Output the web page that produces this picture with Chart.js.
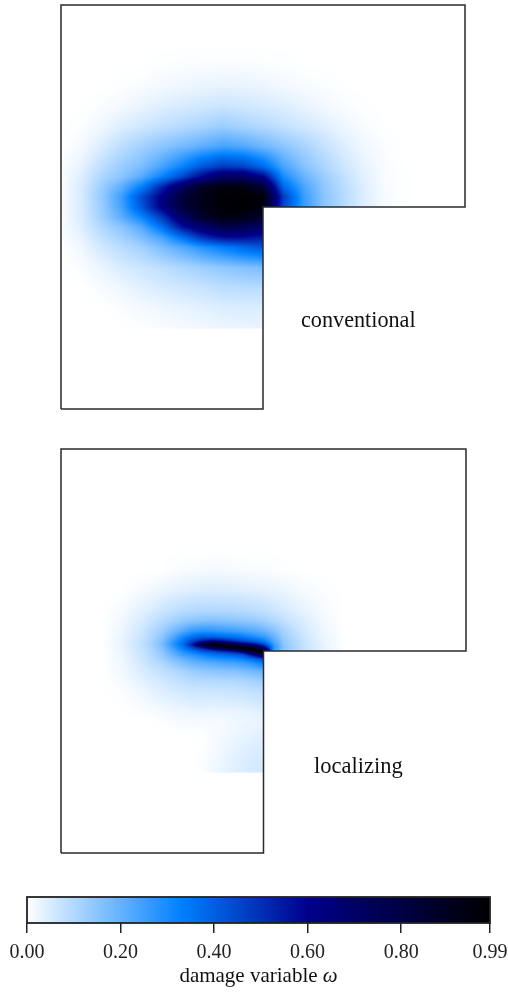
<!DOCTYPE html>
<html><head><meta charset="utf-8">
<script src="https://cdn.jsdelivr.net/npm/chart.js@4.4.1/dist/chart.umd.min.js"></script>
<style>
html,body{margin:0;padding:0;background:#fff;width:508px;height:992px;overflow:hidden;position:relative;}
canvas{position:absolute;left:0;}
.lbl{position:absolute;font-family:'Liberation Serif','Times New Roman',serif;color:#111;white-space:nowrap;line-height:1;}
</style></head><body>
<canvas id="topc" width="508" height="420" style="top:0px"></canvas>
<canvas id="botc" width="508" height="430" style="top:440px"></canvas>
<canvas id="cbc" width="508" height="102" style="top:890px"></canvas>
<div class="lbl" style="left:301px;top:308.6px;font-size:22.2px">conventional</div>
<div class="lbl" style="left:314px;top:754.6px;font-size:22.5px">localizing</div>
<div class="lbl" style="left:158.5px;width:200px;text-align:center;top:965.4px;font-size:21px">damage variable <i>ω</i></div>
<script>
// ---------- data ----------
// L-shaped domain outline (mm)
const shapeX = [0, 0, 500, 500, 250, 250, 0];
const shapeY = [0, 500, 500, 250, 250, 0, 0];

// colormap
const cmapVals = [0, 0.33, 0.6, 0.99];
const cmapColors = ['#ffffff', '#0080ff', '#00008b', '#000000'];

// colorbar ticks
const cbTicks = [0, 0.2, 0.4, 0.6, 0.8, 0.99];

// conventional model: damage field on grid nodes (x in mm, y in mm, rows top->bottom)
const topX = [0,25,50,75,100,125,150,175,200,225,250,275,300,325,350,375,400,425,450];
const topY = [450,425,400,375,350,325,300,287.5,275,262.5,250,237.5,225,212.5,200,175,150,125,100,99];
const topOmega = [
[0,0,0,0,0,0,0,0,0,0,0,0,0,0,0,0,0,0,0],
[0,0,0,0,0,0.004,0.006,0.007,0.008,0.008,0.006,0.004,0.001,0,0,0,0,0,0],
[0,0,0,0.003,0.008,0.015,0.021,0.027,0.03,0.029,0.024,0.017,0.01,0.005,0.001,0,0,0,0],
[0,0,0.005,0.015,0.028,0.041,0.052,0.06,0.068,0.061,0.053,0.043,0.03,0.017,0.007,0.002,0,0,0],
[0,0.004,0.018,0.043,0.061,0.078,0.094,0.11,0.128,0.113,0.096,0.078,0.06,0.041,0.022,0.007,0.001,0,0],
[0,0.013,0.047,0.087,0.12,0.15,0.18,0.21,0.24,0.225,0.19,0.15,0.115,0.077,0.044,0.019,0.005,0,0],
[0.004,0.032,0.085,0.13,0.17,0.24,0.32,0.42,0.48,0.46,0.38,0.24,0.16,0.11,0.065,0.031,0.009,0.001,0],
[0.006,0.042,0.105,0.15,0.22,0.32,0.45,0.6,0.72,0.72,0.6,0.3,0.2,0.13,0.08,0.037,0.009,0.002,0],
[0.007,0.05,0.125,0.21,0.33,0.52,0.72,0.9,0.95,0.95,0.85,0.38,0.24,0.145,0.09,0.042,0.01,0.002,0],
[0.007,0.05,0.135,0.25,0.44,0.62,0.83,0.93,0.98,0.99,0.97,0.48,0.263,0.152,0.096,0.044,0.011,0.002,0],
[0.007,0.05,0.13,0.24,0.42,0.62,0.82,0.92,0.97,0.98,0.95,0.45,0.26,0.15,0.093,0.043,0.01,0.002,0],
[0.006,0.048,0.12,0.21,0.32,0.48,0.7,0.87,0.94,0.93,0.85,0,0,0,0,0,0,0,0],
[0.005,0.041,0.1,0.15,0.22,0.36,0.56,0.68,0.78,0.76,0.7,0,0,0,0,0,0,0,0],
[0.004,0.03,0.08,0.12,0.17,0.24,0.36,0.5,0.58,0.58,0.55,0,0,0,0,0,0,0,0],
[0.001,0.019,0.058,0.09,0.12,0.17,0.22,0.28,0.33,0.38,0.42,0,0,0,0,0,0,0,0],
[0,0.006,0.026,0.05,0.068,0.085,0.105,0.125,0.145,0.16,0.17,0,0,0,0,0,0,0,0],
[0,0,0.008,0.022,0.038,0.05,0.062,0.073,0.085,0.09,0.092,0,0,0,0,0,0,0,0],
[0,0,0,0.006,0.014,0.022,0.03,0.037,0.045,0.047,0.048,0,0,0,0,0,0,0,0],
[0,0,0,0,0.003,0.008,0.013,0.018,0.024,0.026,0.027,0,0,0,0,0,0,0,0],
[0,0,0,0,0,0,0,0,0,0,0,0,0,0,0,0,0,0,0]
];

// localizing model
const botX = [0,50,75,100,112.5,125,137.5,150,162.5,175,187.5,200,212.5,225,237.5,250,262.5,275,300,325,350];
const botY = [375,350,325,300,287.5,275,267.5,262.5,260,257.5,255,252.5,250,247.5,245,240,235,225,212.5,200,175,162.5,150,137.5,125,112.5,100,99];
const botOmega = [
[0,0,0,0,0,0,0,0,0,0,0,0,0,0,0,0,0,0,0,0,0],
[0,0,0,0,0,0.001,0.005,0.008,0.011,0.012,0.014,0.013,0.012,0.01,0.008,0.007,0.005,0.003,0,0,0],
[0,0,0,0.011,0.018,0.026,0.033,0.039,0.043,0.046,0.047,0.045,0.044,0.041,0.038,0.035,0.03,0.025,0.012,0.004,0],
[0,0,0.011,0.037,0.05,0.067,0.08,0.09,0.097,0.1,0.1,0.1,0.097,0.093,0.088,0.08,0.068,0.055,0.03,0.01,0],
[0,0,0.018,0.051,0.073,0.094,0.113,0.134,0.148,0.158,0.16,0.155,0.15,0.143,0.135,0.12,0.1,0.08,0.045,0.015,0],
[0,0,0.023,0.064,0.096,0.128,0.172,0.218,0.26,0.274,0.27,0.26,0.25,0.235,0.215,0.195,0.16,0.115,0.058,0.02,0],
[0,0,0.026,0.072,0.106,0.15,0.22,0.3,0.36,0.4,0.395,0.377,0.36,0.33,0.3,0.265,0.2,0.13,0.065,0.024,0],
[0,0,0.028,0.077,0.113,0.163,0.251,0.34,0.46,0.54,0.6,0.557,0.5,0.44,0.4,0.34,0.23,0.14,0.07,0.026,0],
[0,0,0.029,0.08,0.116,0.17,0.266,0.36,0.5,0.7,0.88,0.774,0.66,0.557,0.5,0.4,0.25,0.145,0.072,0.027,0],
[0,0,0.029,0.08,0.116,0.17,0.267,0.36,0.55,0.9,0.96,0.95,0.915,0.774,0.65,0.5,0.27,0.15,0.074,0.028,0],
[0,0,0.028,0.078,0.112,0.164,0.252,0.34,0.47,0.62,0.88,0.94,0.985,0.95,0.88,0.62,0.28,0.152,0.075,0.029,0],
[0,0,0.027,0.075,0.109,0.16,0.237,0.32,0.42,0.5,0.6,0.73,0.85,0.94,0.98,0.8,0.27,0.15,0.075,0.029,0],
[0,0,0.026,0.073,0.106,0.151,0.222,0.29,0.35,0.44,0.47,0.536,0.59,0.73,0.96,0.98,0.24,0.145,0.073,0.028,0],
[0,0,0.025,0.07,0.104,0.143,0.207,0.27,0.31,0.37,0.4,0.43,0.465,0.536,0.76,0.96,0,0,0,0,0],
[0,0,0.024,0.068,0.1,0.136,0.19,0.25,0.28,0.31,0.35,0.37,0.39,0.43,0.58,0.75,0,0,0,0,0],
[0,0,0.021,0.063,0.09,0.124,0.16,0.195,0.23,0.26,0.275,0.29,0.3,0.325,0.37,0.45,0,0,0,0,0],
[0,0,0.019,0.058,0.083,0.101,0.136,0.165,0.195,0.205,0.22,0.23,0.24,0.255,0.285,0.33,0,0,0,0,0],
[0,0,0.017,0.049,0.063,0.082,0.095,0.11,0.13,0.145,0.148,0.155,0.16,0.17,0.185,0.2,0,0,0,0,0],
[0,0,0.011,0.035,0.048,0.058,0.073,0.081,0.092,0.092,0.096,0.098,0.1,0.105,0.115,0.125,0,0,0,0,0],
[0,0,0.005,0.021,0.033,0.043,0.05,0.058,0.064,0.066,0.066,0.068,0.07,0.073,0.08,0.085,0,0,0,0,0],
[0,0,0,0.005,0.009,0.014,0.019,0.022,0.026,0.027,0.025,0.026,0.028,0.03,0.035,0.04,0,0,0,0,0],
[0,0,0,0,0,0.004,0.008,0.011,0.013,0.012,0.012,0.013,0.018,0.022,0.026,0.028,0,0,0,0,0],
[0,0,0,0,0,0,0,0.002,0.003,0.004,0.008,0.014,0.02,0.027,0.032,0.035,0,0,0,0,0],
[0,0,0,0,0,0,0,0,0,0.002,0.01,0.018,0.026,0.034,0.04,0.043,0,0,0,0,0],
[0,0,0,0,0,0,0,0,0,0.003,0.012,0.022,0.032,0.04,0.047,0.05,0,0,0,0,0],
[0,0,0,0,0,0,0,0,0,0.005,0.015,0.026,0.036,0.045,0.052,0.055,0,0,0,0,0],
[0,0,0,0,0,0,0,0,0,0.006,0.016,0.028,0.038,0.047,0.054,0.056,0,0,0,0,0],
[0,0,0,0,0,0,0,0,0,0,0,0,0,0,0,0,0,0,0,0,0]
];

// ---------- helpers ----------
Chart.defaults.font.family = "'Liberation Serif','Times New Roman',serif";
const cmapRGB = cmapColors.map(h => [parseInt(h.slice(1,3),16), parseInt(h.slice(3,5),16), parseInt(h.slice(5,7),16)]);
function cmap(v) {
  v = Math.max(cmapVals[0], Math.min(cmapVals[cmapVals.length-1], v));
  for (let k = 0; k < cmapVals.length - 1; k++) {
    if (v <= cmapVals[k+1]) {
      const t = (v - cmapVals[k]) / (cmapVals[k+1] - cmapVals[k]);
      const a = cmapRGB[k], b = cmapRGB[k+1];
      return [a[0]+(b[0]-a[0])*t, a[1]+(b[1]-a[1])*t, a[2]+(b[2]-a[2])*t];
    }
  }
  return cmapRGB[cmapRGB.length-1];
}
function locate(arr, v, desc) {
  const n = arr.length;
  if (!desc) {
    if (v < arr[0] || v > arr[n-1]) return null;
    for (let k = 0; k < n-1; k++) if (v <= arr[k+1]) return [k, (v-arr[k])/(arr[k+1]-arr[k])];
  } else {
    if (v > arr[0] || v < arr[n-1]) return null;
    for (let k = 0; k < n-1; k++) if (v >= arr[k+1]) return [k, (arr[k]-v)/(arr[k]-arr[k+1])];
  }
  return null;
}
function fieldPlugin(xs, ys, grid) {
  return {
    id: 'field',
    beforeDatasetsDraw(chart) {
      const ctx = chart.ctx, a = chart.chartArea, sx = chart.scales.x, sy = chart.scales.y;
      const x0 = Math.round(a.left), y0 = Math.round(a.top);
      const w = Math.round(a.right) - x0, h = Math.round(a.bottom) - y0;
      const off = document.createElement('canvas'); off.width = w; off.height = h;
      const octx = off.getContext('2d');
      const img = octx.createImageData(w, h);
      const cx = [], cy = [], Xv = [], Yv = [];
      for (let i = 0; i < w; i++) { const X = sx.getValueForPixel(x0+i+0.5); Xv.push(X); cx.push(locate(xs, X, false)); }
      for (let j = 0; j < h; j++) { const Y = sy.getValueForPixel(y0+j+0.5); Yv.push(Y); cy.push(locate(ys, Y, true)); }
      for (let j = 0; j < h; j++) {
        const r = cy[j]; if (!r) continue;
        for (let i = 0; i < w; i++) {
          const c = cx[i]; if (!c) continue;
          if (Xv[i] > 250 && Yv[j] < 250) continue;
          const [k, t] = r, [m, u] = c;
          const v = (1-t)*((1-u)*grid[k][m] + u*grid[k][m+1]) + t*((1-u)*grid[k+1][m] + u*grid[k+1][m+1]);
          if (v <= 0) continue;
          const col = cmap(v);
          const p = (j*w + i)*4;
          img.data[p] = col[0]; img.data[p+1] = col[1]; img.data[p+2] = col[2]; img.data[p+3] = 255;
        }
      }
      octx.putImageData(img, 0, 0);
      ctx.drawImage(off, x0, y0);
    }
  };
}
function panel(id, xs, ys, grid, pad) {
  return new Chart(document.getElementById(id), {
    type: 'line',
    data: { datasets: [{
      data: shapeX.map((x, i) => ({x: x, y: shapeY[i]})),
      borderColor: '#2a2a2a', borderWidth: 1.5, pointRadius: 0, fill: false, tension: 0, clip: 4
    }]},
    options: {
      responsive: false, animation: false, devicePixelRatio: 1,
      layout: { padding: pad },
      scales: {
        x: { type: 'linear', min: 0, max: 500, display: false },
        y: { type: 'linear', min: 0, max: 500, display: false }
      },
      plugins: { legend: { display: false }, tooltip: { enabled: false } }
    },
    plugins: [fieldPlugin(xs, ys, grid)]
  });
}
panel('topc', topX, topY, topOmega, {left: 61, right: 43, top: 5, bottom: 11});
panel('botc', botX, botY, botOmega, {left: 61, right: 42, top: 9, bottom: 17});

// colorbar
new Chart(document.getElementById('cbc'), {
  type: 'scatter',
  data: { datasets: [{ data: [] }] },
  options: {
    responsive: false, animation: false, devicePixelRatio: 1,
    layout: { padding: { left: 27, right: 18, top: 7, bottom: 0 } },
    scales: {
      x: {
        type: 'linear', min: 0, max: 0.99, position: 'bottom',
        afterBuildTicks: s => { s.ticks = cbTicks.map(v => ({ value: v })); },
        afterFit: s => { s.height = 69; s.paddingLeft = 0; s.paddingRight = 0; },
        ticks: { callback: v => Number(v).toFixed(2), font: { size: 20 }, color: '#222', padding: 8, maxRotation: 0, autoSkip: false },
        grid: { display: true, drawOnChartArea: false, drawTicks: true, tickLength: 10, color: '#222', lineWidth: 1.5 },
        border: { display: false }
      },
      y: { display: false, min: 0, max: 1 }
    },
    plugins: { legend: { display: false }, tooltip: { enabled: false } }
  },
  plugins: [{
    id: 'cbar',
    afterDraw(chart) {
      const ctx = chart.ctx, a = chart.chartArea, sx = chart.scales.x;
      for (let x = Math.round(a.left); x < Math.round(a.right); x++) {
        const c = cmap(sx.getValueForPixel(x + 0.5));
        ctx.fillStyle = 'rgb(' + c.map(Math.round).join(',') + ')';
        ctx.fillRect(x, a.top, 1, a.bottom - a.top);
      }
      ctx.strokeStyle = '#222'; ctx.lineWidth = 1.8;
      ctx.strokeRect(a.left, a.top, a.right - a.left, a.bottom - a.top);
    }
  }]
});
</script>
</body></html>
